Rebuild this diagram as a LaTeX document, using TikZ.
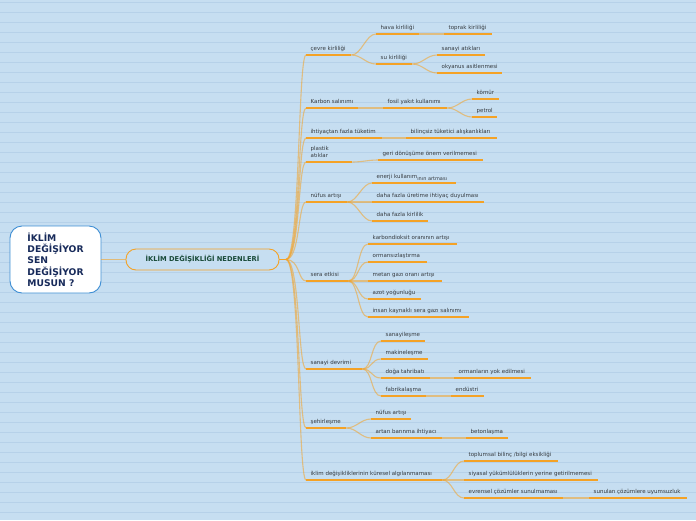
\documentclass[tikz,border=0pt]{standalone}
\usepackage{fontspec}
\setmainfont{DejaVu Sans}
\definecolor{bg}{HTML}{C6DEF1}
\definecolor{stripe}{HTML}{B6D1E9}
\definecolor{org}{HTML}{F4A226}
\definecolor{tgray}{HTML}{363B40}
\definecolor{navy}{HTML}{172A5A}
\definecolor{dgreen}{HTML}{184A38}
\definecolor{rootblue}{HTML}{3E8ED4}
\tikzset{
 topic/.style={anchor=south west, inner xsep=4.5pt, inner ysep=2.7pt, text height=4pt, text depth=1.2pt, font=\fontsize{5.5}{6.6}\selectfont, text=tgray},
 uline/.style={draw=org, line width=2pt},
 link/.style={draw=org, draw opacity=0.55, line width=1.1pt},
 bz/.style={out=0, in=180, out distance=10pt, in distance=10pt},
 tz/.style={out=0, in=180, out distance=14pt, in distance=8pt},
}
\newcommand\tn[5]{\node[topic] (#1) at (#2,#3) {\makebox[\dimexpr #4pt-9pt\relax][l]{#5}};}
\begin{document}
\begin{tikzpicture}[x=1pt,y=-1pt]
\useasboundingbox (0,0) rectangle (696,520);
\fill[bg] (0,0) rectangle (696,520);
\foreach \i in {0,...,51} \draw[stripe, line width=0.6pt] (0,2.5+10*\i) -- (696,2.5+10*\i);

\node[draw=rootblue, line width=0.9pt, fill=white, rounded corners=12pt, minimum width=91pt, minimum height=67pt, align=left, font=\fontsize{9.2}{11.3}\selectfont\bfseries, text=navy] (root) at (55.5,259.5) {İKLİM\\DEĞİŞİYOR\\SEN\\DEĞİŞİYOR\\MUSUN ?};
\node[draw=org, line width=0.9pt, fill=bg, rounded corners=10pt, minimum width=153pt, minimum height=21pt, font=\fontsize{6.7}{8}\selectfont\bfseries, text=dgreen] (main) at (202.5,259.5) {İKLİM DEĞİŞİKLİĞİ NEDENLERİ};
\coordinate (hub) at (286,259.5);

% level 1
\tn{c1}{306}{55}{45}{çevre kirliliği}
\tn{c2}{306}{108}{52}{Karbon salınımı}
\tn{c3}{306}{138}{76}{ihtiyaçtan fazla tüketim}
\node[topic] (c4) at (306,162) {\parbox[b]{37pt}{\baselineskip=7pt plastik\\atıklar}};
\tn{c5}{306}{202}{41}{nüfus artışı}
\tn{c6}{306}{281}{42}{sera etkisi}
\tn{c7}{306}{369}{56}{sanayi devrimi}
\tn{c8}{306}{428}{40}{şehirleşme}
\tn{c9}{306}{480}{136}{iklim değişikliklerinin küresel algılanmaması}

% level 2+
\tn{c1a}{376}{34}{43}{hava kirliliği}
\tn{c1aa}{444}{34}{48}{toprak kirliliği}
\tn{c1b}{376}{64}{36}{su kirliliği}
\tn{c1ba}{437}{55}{48}{sanayi atıkları}
\tn{c1bb}{437}{73}{65}{okyanus asitlenmesi}
\tn{c2a}{383}{108}{64}{fosil yakıt kullanımı}
\tn{c2aa}{472}{99}{27}{kömür}
\tn{c2ab}{472}{117}{25}{petrol}
\tn{c3a}{406}{138}{91}{bilinçsiz tüketici alışkanlıkları}
\tn{c4a}{378}{160}{105}{geri dönüşüme önem verilmemesi}
\tn{c5a}{372}{183}{84}{enerji kullanım\raisebox{-1.2pt}{\fontsize{5}{6}\selectfont ının artması}}
\tn{c5b}{372}{202}{112}{daha fazla üretime ihtiyaç duyulması}
\tn{c5c}{372}{221}{56}{daha fazla kirlilik}
\tn{c6a}{368}{244}{89}{karbondioksit oranının artışı}
\tn{c6b}{368}{262}{59}{ormansızlaştırma}
\tn{c6c}{368}{281}{74}{metan gazı oranı artışı}
\tn{c6d}{368}{299}{53}{azot yoğunluğu}
\tn{c6e}{368}{317}{101}{insan kaynaklı sera gazı salınımı}
\tn{c7a}{381}{341}{44}{sanayileşme}
\tn{c7b}{381}{359}{47}{makineleşme}
\tn{c7c}{381}{378}{49}{doğa tahribatı}
\tn{c7ca}{454}{378}{77}{ormanların yok edilmesi}
\tn{c7d}{381}{396}{45}{fabrikalaşma}
\tn{c7da}{451}{396}{33}{endüstri}
\tn{c8a}{371}{419}{40}{nüfus artışı}
\tn{c8b}{371}{438}{71}{artan barınma ihtiyacı}
\tn{c8ba}{466}{438}{42}{betonlaşma}
\tn{c9a}{464}{461}{94}{toplumsal bilinç /bilgi eksikliği}
\tn{c9b}{464}{480}{134}{siyasal yükümlülüklerin yerine getirilmemesi}
\tn{c9c}{464}{498}{99}{evrensel çözümler sunulmaması}
\tn{c9ca}{589}{498}{98}{sunulan çözümlere uyumsuzluk}

% underlines
\foreach \n in {c1,c2,c3,c4,c5,c6,c7,c8,c9,c1a,c1aa,c1b,c1ba,c1bb,c2a,c2aa,c2ab,c3a,c4a,c5a,c5b,c5c,c6a,c6b,c6c,c6d,c6e,c7a,c7b,c7c,c7ca,c7d,c7da,c8a,c8b,c8ba,c9a,c9b,c9c,c9ca}
  \draw[uline] (\n.south west) -- (\n.south east);

% connectors
\draw[draw=org, draw opacity=0.6, line width=1.6pt] (root.east) -- (main.west);
\draw[draw=org, line width=1.6pt] (main.east) -- (hub);
\foreach \n in {c1,c2,c3,c4,c5,c6,c7,c8,c9}
  \draw[link] (hub) to[tz] (\n.south west);
\foreach \a/\b in {c1/c1a, c1a/c1aa, c1/c1b, c1b/c1ba, c1b/c1bb, c2/c2a, c2a/c2aa, c2a/c2ab, c3/c3a, c4/c4a, c5/c5a, c5/c5b, c5/c5c, c6/c6a, c6/c6b, c6/c6c, c6/c6d, c6/c6e, c7/c7a, c7/c7b, c7/c7c, c7c/c7ca, c7/c7d, c7d/c7da, c8/c8a, c8/c8b, c8b/c8ba, c9/c9a, c9/c9b, c9/c9c, c9c/c9ca}
  \draw[link] (\a.south east) to[bz] (\b.south west);
\end{tikzpicture}
\end{document}
